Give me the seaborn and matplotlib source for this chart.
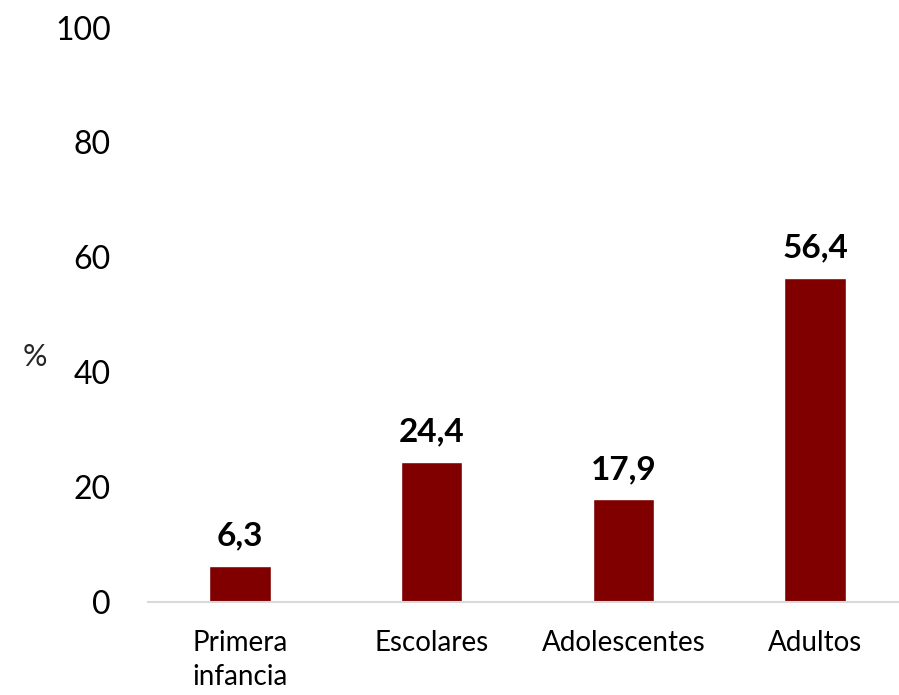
import matplotlib
matplotlib.use("Agg")
import matplotlib.pyplot as plt
import seaborn as sns
import pandas as pd

categories = ["Primera\ninfancia", "Escolares", "Adolescentes", "Adultos"]
values = [6.3, 24.4, 17.9, 56.4]
value_labels = ["6,3", "24,4", "17,9", "56,4"]
y_ticks = [0, 20, 40, 60, 80, 100]

sns.set_theme(style="white")
plt.rcParams['font.family'] = ['Lato', 'DejaVu Sans']

df = pd.DataFrame({"cat": categories, "val": values})

fig = plt.figure(figsize=(8.99, 6.95), dpi=100)
ax = fig.add_axes([0.1602, 0.1338, 0.853, 0.8266])
sns.barplot(data=df, x="cat", y="val", color="#800000", width=0.32,
            saturation=1, ax=ax)

ax.set_ylim(0, 100)
ax.set_xlim(-0.5, 3.5)
ax.set_yticks(y_ticks)
ax.set_yticklabels([str(t) for t in y_ticks], fontsize=23, color="black")
ax.tick_params(axis="y", length=0, pad=24)
ax.tick_params(axis="x", length=0, pad=20, labelsize=20, labelcolor="black")
for lab in ax.get_xticklabels():
    lab.set_linespacing(1.4)
    lab.set_verticalalignment("top")

for s in ["top", "right", "left"]:
    ax.spines[s].set_visible(False)
ax.spines["bottom"].set_color("#d9d9d9")
ax.spines["bottom"].set_linewidth(1.5)
ax.spines["bottom"].set_bounds(-0.48, 3.5)

ax.set_xlabel("")
ax.set_ylabel("")
fig.text(35 / 899, 1 - 357 / 695, "%", fontsize=22, ha="center", va="center")

for i, (v, t) in enumerate(zip(values, value_labels)):
    ax.annotate(t, (i, v), xytext=(0, 11), textcoords="offset points",
                ha="center", va="bottom", fontsize=24, fontweight="bold",
                color="black")

fig.savefig("out.png", dpi=100)
